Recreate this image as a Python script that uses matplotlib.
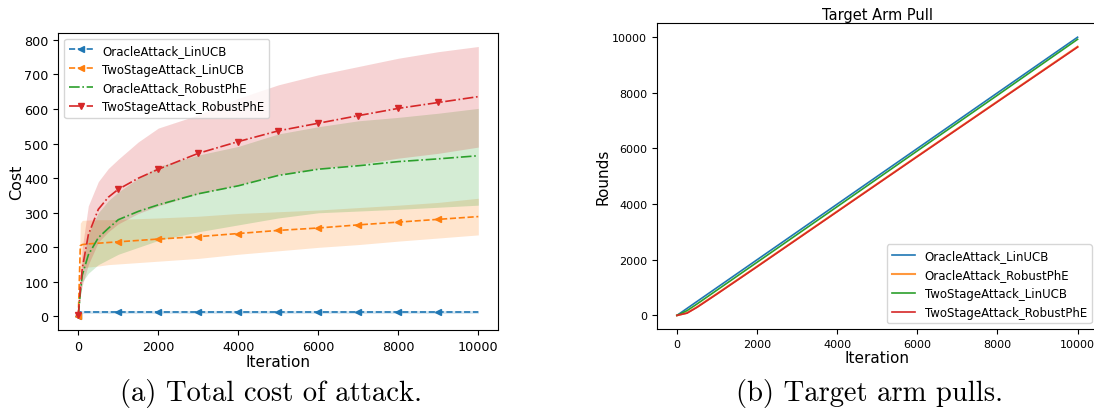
import matplotlib
matplotlib.use("Agg")
import matplotlib.pyplot as plt

# (a) total cost of attack
iters = [0, 50, 100, 250, 500, 750, 1000, 1500, 2000, 3000, 4000,
         5000, 6000, 7000, 8000, 9000, 10000]

oracle_lin = [0, 13, 13, 13, 13, 13, 13, 13, 13, 13, 13, 13, 13, 13, 13, 13, 13]
oracle_lin_lo = [0, 9, 9, 9, 9, 9, 9, 9, 9, 9, 9, 9, 9, 9, 9, 9, 9]
oracle_lin_hi = [0, 17, 17, 17, 17, 17, 17, 17, 17, 17, 17, 17, 17, 17, 17, 17, 17]

two_lin = [0, 205, 208, 210, 212, 214, 216, 220, 224, 231, 240, 249, 256, 265, 273, 281, 289]
two_lin_lo = [0, 140, 141, 143, 146, 150, 152, 156, 160, 168, 180, 190, 200, 208, 218, 227, 236]
two_lin_hi = [0, 270, 278, 279, 280, 280, 281, 283, 285, 290, 298, 303, 308, 315, 322, 330, 342]

oracle_phe = [0, 70, 120, 178, 228, 255, 280, 304, 323, 355, 378, 408, 426, 436, 448, 456, 465]
oracle_phe_lo = [0, 60, 100, 125, 150, 165, 180, 200, 220, 245, 265, 285, 300, 305, 310, 316, 322]
oracle_phe_hi = [0, 90, 150, 240, 300, 335, 360, 400, 434, 467, 492, 528, 549, 566, 576, 588, 602]

two_phe = [5, 80, 140, 236, 310, 345, 368, 400, 426, 472, 506, 537, 559, 581, 602, 619, 636]
two_phe_lo = [0, 60, 90, 150, 215, 245, 268, 298, 320, 355, 380, 410, 428, 440, 458, 472, 490]
two_phe_hi = [10, 120, 200, 320, 390, 428, 455, 505, 545, 583, 631, 670, 699, 723, 747, 766, 781]

# (b) target arm pulls
rounds_x = [0, 250, 500, 1000, 2000, 4000, 6000, 8000, 10000]
pulls_oracle_lin = [0, 250, 500, 1000, 2000, 4000, 6000, 8000, 10000]
pulls_oracle_phe = [0, 90, 300, 780, 1760, 3740, 5720, 7690, 9660]
pulls_two_lin = [0, 170, 410, 910, 1910, 3910, 5915, 7915, 9925]
pulls_two_phe = [0, 80, 290, 770, 1750, 3730, 5710, 7680, 9645]

marks = [iters.index(v) for v in range(0, 10000, 1000)]

fig = plt.figure(figsize=(10.94, 4.14), dpi=100)
ax1 = fig.add_axes([0.0533, 0.2005, 0.4022, 0.7174])
ax2 = fig.add_axes([0.6005, 0.2022, 0.4028, 0.7391])

series = [
    ("OracleAttack_LinUCB", oracle_lin, oracle_lin_lo, oracle_lin_hi, "C0", "--", "<"),
    ("TwoStageAttack_LinUCB", two_lin, two_lin_lo, two_lin_hi, "C1", "--", "<"),
    ("OracleAttack_RobustPhE", oracle_phe, oracle_phe_lo, oracle_phe_hi, "C2", "-.", None),
    ("TwoStageAttack_RobustPhE", two_phe, two_phe_lo, two_phe_hi, "C3", "-.", "v"),
]
for name, mean, lo, hi, col, ls, mk in series:
    ax1.plot(iters, mean, color=col, linestyle=ls, marker=mk, markersize=4,
             markevery=marks, linewidth=1.2, label=name)
    ax1.fill_between(iters, lo, hi, color=col, alpha=0.2, linewidth=0)

ax1.set_xlabel("Iteration", fontsize=11, labelpad=1)
ax1.set_ylabel("Cost", fontsize=11.5, labelpad=0)
ax1.tick_params(labelsize=9.2)
ax1.set_xticks([0, 2000, 4000, 6000, 8000, 10000])
ax1.legend(loc="upper left", fontsize=8.5)

ax2.plot(rounds_x, pulls_oracle_lin, color="C0", linewidth=1.2, label="OracleAttack_LinUCB")
ax2.plot(rounds_x, pulls_oracle_phe, color="C1", linewidth=1.5, alpha=0.8, label="OracleAttack_RobustPhE")
ax2.plot(rounds_x, pulls_two_lin, color="C2", linewidth=1.2, label="TwoStageAttack_LinUCB")
ax2.plot(rounds_x, pulls_two_phe, color="C3", linewidth=1.2, label="TwoStageAttack_RobustPhE")
ax2.set_title("Target Arm Pull", fontsize=10.5, pad=3)
ax2.set_xlabel("Iteration", fontsize=11, labelpad=1)
ax2.set_ylabel("Rounds", fontsize=11, labelpad=1)
ax2.tick_params(labelsize=8)
ax2.set_xticks([0, 2000, 4000, 6000, 8000, 10000])
ax2.legend(loc="lower right", fontsize=8.5)

fig.text(0.248, 0.05, "(a) Total cost of attack.", family="cmr10",
         fontsize=20.6, ha="center", va="center")
fig.text(0.795, 0.05, "(b) Target arm pulls.", family="cmr10",
         fontsize=20.6, ha="center", va="center")

fig.savefig("out.png", dpi=100)
